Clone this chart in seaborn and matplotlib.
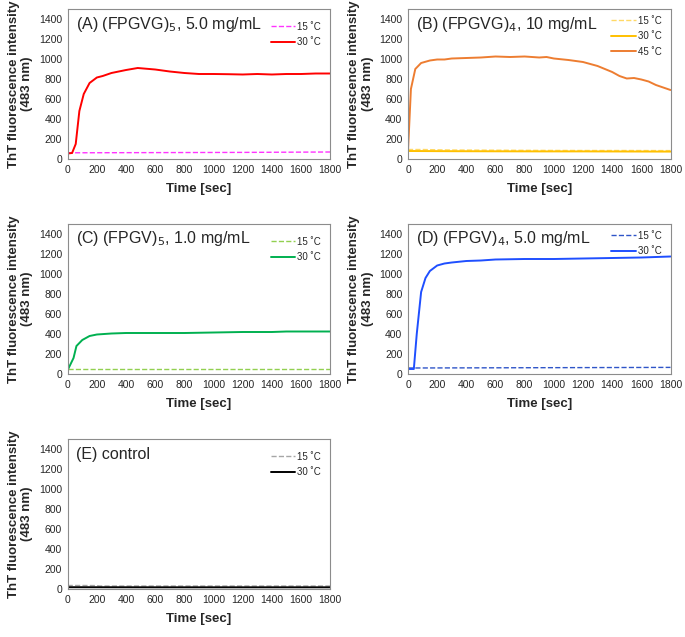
import numpy as np
import pandas as pd
import matplotlib.pyplot as plt
import seaborn as sns

sns.set_style("white")
plt.rcParams['font.family'] = ['Liberation Sans', 'DejaVu Sans']

# Panel A: (FPGVG)5, 5.0 mg/mL
a_t15 = [0, 300, 600, 900, 1200, 1500, 1800]
a_v15 = [62, 63, 64, 65, 66, 68, 70]
a_t30 = [0, 30, 55, 80, 110, 150, 200, 240, 300, 400, 480, 560, 600, 700, 800, 900,
         1000, 1100, 1200, 1300, 1400, 1500, 1600, 1700, 1800]
a_v30 = [55, 60, 150, 480, 650, 760, 815, 830, 860, 890, 910, 900, 895, 875, 860, 850,
         850, 848, 845, 850, 845, 850, 850, 855, 855]

# Panel B: (FPGVG)4, 10 mg/mL
b_t15 = [0, 100, 200, 300, 600, 900, 1200, 1500, 1800]
b_v15 = [95, 95, 92, 90, 88, 86, 85, 85, 84]
b_t30 = [0, 300, 600, 900, 1200, 1500, 1800]
b_v30 = [80, 78, 77, 76, 76, 75, 74]
b_t45 = [0, 20, 50, 90, 150, 200, 250, 300, 400, 500, 600, 700, 800, 900, 950, 1000,
         1100, 1200, 1300, 1400, 1450, 1500, 1550, 1600, 1650, 1700, 1800]
b_v45 = [80, 700, 900, 960, 985, 995, 995, 1005, 1010, 1015, 1025, 1020, 1025, 1015, 1020, 1005,
         990, 970, 930, 870, 830, 805, 810, 795, 775, 740, 690]

# Panel C: (FPGV)5, 1.0 mg/mL
c_t15 = [0, 600, 1200, 1800]
c_v15 = [50, 50, 50, 50]
c_t30 = [0, 20, 40, 60, 100, 150, 200, 300, 400, 600, 800, 1000, 1200, 1400, 1500, 1800]
c_v30 = [40, 100, 160, 280, 340, 380, 395, 405, 410, 410, 410, 415, 420, 420, 425, 425]

# Panel D: (FPGV)4, 5.0 mg/mL
d_t15 = [0, 600, 1200, 1800]
d_v15 = [60, 62, 64, 66]
d_t30 = [0, 40, 60, 90, 120, 150, 200, 250, 300, 400, 500, 600, 800, 1000, 1200, 1400, 1600, 1800]
d_v30 = [50, 50, 400, 820, 960, 1030, 1085, 1105, 1115, 1130, 1135, 1145, 1150, 1150, 1155, 1160,
         1165, 1175]

# Panel E: control
e_t15 = [0, 100, 200, 220, 600, 1200, 1800]
e_v15 = [35, 35, 34, 30, 30, 30, 30]
e_t30 = [0, 600, 1200, 1800]
e_v30 = [18, 17, 17, 17]

# (key, title, legend top in axes fraction, series)
panels = [
    ("A", "(A) (FPGVG)$_5$, 5.0 mg/mL", 0.94, [
        ("15 ˚C", a_t15, a_v15, "#ff33ff", "--", 1.0),
        ("30 ˚C", a_t30, a_v30, "#ff0000", "-", 1.4)]),
    ("B", "(B) (FPGVG)$_4$, 10 mg/mL", 0.98, [
        ("15 ˚C", b_t15, b_v15, "#ffd966", "--", 1.0),
        ("30 ˚C", b_t30, b_v30, "#ffc000", "-", 1.4),
        ("45 ˚C", b_t45, b_v45, "#ed7d31", "-", 1.4)]),
    ("C", "(C) (FPGV)$_5$, 1.0 mg/mL", 0.94, [
        ("15 ˚C", c_t15, c_v15, "#92d050", "--", 1.0),
        ("30 ˚C", c_t30, c_v30, "#00b050", "-", 1.4)]),
    ("D", "(D) (FPGV)$_4$, 5.0 mg/mL", 0.98, [
        ("15 ˚C", d_t15, d_v15, "#2f55c8", "--", 1.0),
        ("30 ˚C", d_t30, d_v30, "#1f4fff", "-", 1.4)]),
    ("E", "(E) control", 0.94, [
        ("15 ˚C", e_t15, e_v15, "#a6a6a6", "--", 1.0),
        ("30 ˚C", e_t30, e_v30, "#000000", "-", 1.4)]),
]

fig = plt.figure(figsize=(6.85, 6.37), dpi=100)
W, H = 685, 637
col_left = [67.7, 408]
row_top = [9, 224, 439]
ax_w = 262.5
ax_h = 150

for i, (key, title, leg_y, series) in enumerate(panels):
    r, c = divmod(i, 2)
    left = col_left[c] / W
    bottom = 1 - (row_top[r] + ax_h) / H
    ax = fig.add_axes([left, bottom, ax_w / W, ax_h / H])
    for lab, t, v, col, ls, lw in series:
        df = pd.DataFrame({"t": t, "v": v})
        sns.lineplot(data=df, x="t", y="v", ax=ax, color=col, linestyle=ls,
                     linewidth=lw, label=lab)
    ax.set_xlim(0, 1800)
    ax.set_ylim(0, 1500)
    ax.set_xticks(np.arange(0, 1801, 200))
    ax.set_yticks(np.arange(0, 1401, 200))
    ax.tick_params(axis='both', labelsize=7.5, length=0, pad=4)
    for s in ax.spines.values():
        s.set_color("#8c8c8c")
        s.set_linewidth(0.8)
    ax.set_xlabel("Time [sec]", fontsize=9.5, fontweight="bold", labelpad=6)
    ax.set_ylabel("ThT fluorescence intensity\n(483 nm)", fontsize=9.5,
                  fontweight="bold", labelpad=4)
    ax.text(0.03, 0.9, title, transform=ax.transAxes, fontsize=11.5, va="center")
    ax.legend(loc="upper right", bbox_to_anchor=(0.98, leg_y), frameon=False,
              fontsize=7, handlelength=2.5, handletextpad=0.2, labelspacing=0.55,
              borderaxespad=0.0)

fig.savefig("out.png", dpi=100)
